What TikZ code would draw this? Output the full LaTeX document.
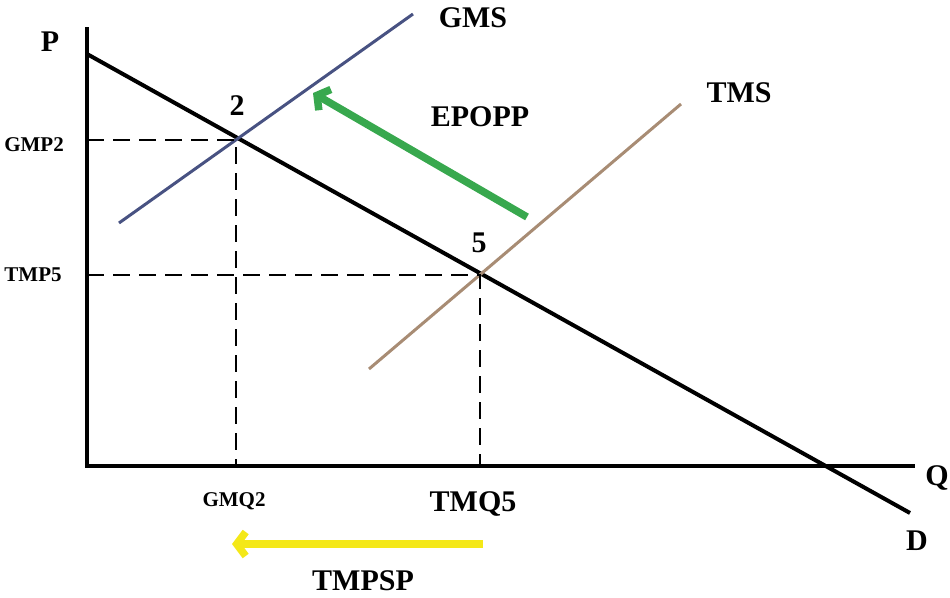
\documentclass[tikz,border=0pt]{standalone}
\usepackage{fontspec}
\setmainfont{Liberation Serif}
\usetikzlibrary{arrows.meta}
\definecolor{gmsblue}{RGB}{72,82,130}
\definecolor{tmsbrown}{RGB}{168,140,116}
\definecolor{arrgreen}{RGB}{56,168,78}
\definecolor{arryellow}{RGB}{244,232,24}
\tikzset{
  axis/.style={line width=4pt},
  demand/.style={line width=4pt},
  supply/.style={line width=3pt},
  guide/.style={line width=2pt, dash pattern=on 17pt off 9pt},
  biglabel/.style={font=\fontsize{30}{30}\selectfont\bfseries, inner sep=0pt},
  smalllabel/.style={font=\fontsize{21}{21}\selectfont\bfseries, inner sep=0pt},
  shiftarrow/.style={line width=7.5pt, -{Straight Barb[length=9pt,width=24pt,line width=7.5pt]}},
}
\begin{document}
\begin{tikzpicture}[x=1pt,y=-1pt]
\useasboundingbox (0,0) rectangle (950,597);
% axes
\coordinate (O) at (87,466);
\coordinate (Ptop) at (87,27);
\coordinate (Qend) at (915,466);
\draw[axis] (Ptop) -- (O) -- (Qend);
% demand
\coordinate (Dstart) at (87,54);
\coordinate (Dend) at (910,513);
\draw[demand] (Dstart) -- (Dend);
% supply curves
\coordinate (GMSa) at (119,223);
\coordinate (GMSb) at (413,14);
\draw[supply, gmsblue] (GMSa) -- (GMSb);
\coordinate (TMSa) at (369,369);
\coordinate (TMSb) at (681,104);
\draw[supply, tmsbrown] (TMSa) -- (TMSb);
% equilibrium points
\coordinate (E2) at (236,140);
\coordinate (E5) at (480,275);
\coordinate (Y2) at (87,140);
\coordinate (Y5) at (87,275);
\coordinate (X2) at (236,466);
\coordinate (X5) at (480,466);
\draw[guide] (Y2) -- (E2) -- (X2);
\draw[guide] (Y5) -- (E5) -- (X5);
% arrows
\coordinate (Gtail) at (527,217);
\coordinate (Ghead) at (313,93);
\draw[shiftarrow, arrgreen] (Gtail) -- (Ghead);
\coordinate (Ytail) at (483,544);
\coordinate (Yhead) at (232,544);
\draw[shiftarrow, arryellow] (Ytail) -- (Yhead);
% labels
\node[biglabel] (lP) at (50,42) {P};
\node[biglabel] (lQ) at (937,478) {Q};
\node[biglabel] (lD) at (917,541) {D};
\node[biglabel] (lGMS) at (473,18) {GMS};
\node[biglabel] (lTMS) at (739,93) {TMS};
\node[biglabel] (lEPOPP) at (480,117) {EPOPP};
\node[biglabel] (l2) at (237,106) {2};
\node[biglabel] (l5) at (479,243) {5};
\node[smalllabel] (lGMP2) at (34,145) {GMP2};
\node[smalllabel] (lTMP5) at (33,275) {TMP5};
\node[smalllabel] (lGMQ2) at (234,501) {GMQ2};
\node[biglabel] (lTMQ5) at (473,504) {TMQ5};
\node[biglabel] (lTMPSP) at (363,581) {TMPSP};
\end{tikzpicture}
\end{document}
